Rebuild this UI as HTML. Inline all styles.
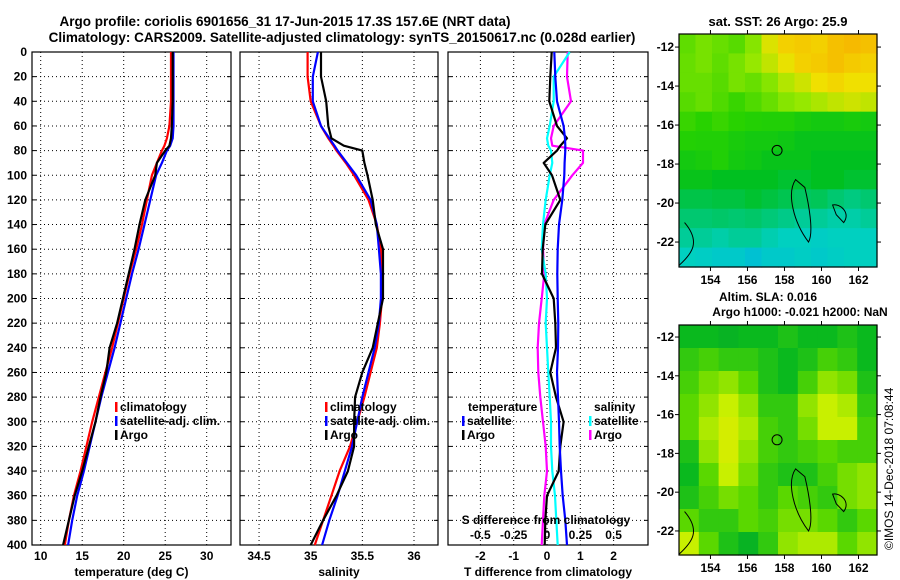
<!DOCTYPE html>
<html><head><meta charset="utf-8"><style>
body{margin:0;background:#fff;width:900px;height:580px;overflow:hidden}
svg{display:block;font-family:"Liberation Sans",sans-serif;font-weight:bold;font-size:12px}
</style></head><body>
<svg id="fig" width="900" height="580" viewBox="0 0 900 580">
<text x="285" y="26" text-anchor="middle" font-size="13.5">Argo profile: coriolis 6901656_31 17-Jun-2015 17.3S 157.6E (NRT data)</text>
<text x="342" y="42" text-anchor="middle" font-size="13.5">Climatology: CARS2009. Satellite-adjusted climatology: synTS_20150617.nc (0.028d earlier)</text>
<text x="778" y="26" text-anchor="middle" font-size="13">sat. SST: 26 Argo: 25.9</text>
<text x="768" y="301" text-anchor="middle" font-size="12">Altim. SLA: 0.016</text>
<text x="800" y="316" text-anchor="middle" font-size="12">Argo h1000: -0.021 h2000: NaN</text>
<text transform="translate(893,550) rotate(-90)" font-size="12" font-weight="normal">©IMOS 14-Dec-2018 07:08:44</text>
<g id="g"></g>
</svg>
<script>
// ---- data ----
const depthTicks=[0,20,40,60,80,100,120,140,160,180,200,220,240,260,280,300,320,340,360,380,400];
const D=[0,20,40,60,70,76,80,90,100,120,140,160,180,200,220,240,260,280,300,320,340,360,380,400];
const tempClim=[25.7,25.7,25.7,25.5,25.2,24.9,24.6,24.0,23.4,22.8,22.2,21.5,20.7,20.0,19.3,18.6,17.8,17.0,16.2,15.5,14.8,14.0,13.4,12.9];
const tempSat=[26.0,26.0,26.0,26.0,25.9,25.6,25.2,24.6,23.9,23.2,22.5,21.8,21.0,20.3,19.6,18.9,18.1,17.3,16.6,15.9,15.2,14.4,13.8,13.3];
const tempArgo=[25.9,25.9,25.9,25.8,25.7,25.5,25.0,24.0,23.8,22.6,21.9,21.3,20.6,19.9,19.2,18.3,17.9,17.2,16.6,15.8,15.0,14.1,13.4,12.7];
const salClim=[34.97,34.97,35.0,35.1,35.17,35.22,35.25,35.34,35.42,35.56,35.64,35.68,35.69,35.69,35.67,35.64,35.58,35.52,35.45,35.38,35.28,35.2,35.12,35.04];
const salSat=[35.07,35.02,35.02,35.1,35.18,35.23,35.26,35.35,35.44,35.58,35.64,35.66,35.68,35.68,35.66,35.62,35.56,35.5,35.45,35.4,35.33,35.26,35.18,35.11];
const salArgo=[35.1,35.1,35.15,35.17,35.2,35.32,35.5,35.52,35.55,35.6,35.63,35.7,35.7,35.7,35.65,35.6,35.5,35.43,35.42,35.42,35.36,35.25,35.12,35.0];
const dTsat=[0.22,0.25,0.3,0.5,0.54,0.55,0.55,0.53,0.52,0.46,0.36,0.32,0.31,0.32,0.34,0.33,0.3,0.33,0.36,0.38,0.42,0.47,0.55,0.6];
const dTargo=[0.14,0.1,0.07,0.3,0.6,0.4,0.3,-0.1,0.15,0.4,-0.05,-0.13,-0.15,0.2,0.25,0.27,0.1,0.27,0.5,0.4,0.35,0.0,-0.05,-0.07];
const dSsat=[0.17,0.05,0.05,0.02,0.0,0.01,0.03,0.04,0.02,-0.01,-0.03,-0.04,-0.01,0.0,-0.01,0.0,0.01,0.02,0.03,0.03,0.04,0.06,0.07,0.08];
const dSargo=[0.155,0.15,0.18,0.05,0.03,0.04,0.27,0.27,0.19,0.05,-0.02,-0.03,-0.02,-0.04,-0.06,-0.07,-0.065,-0.05,-0.03,-0.01,0.0,-0.02,-0.03,-0.04];
const tTicks=[10,15,20,25,30];
const sTicks=[34.5,35,35.5,36];
const dtTicks=[-2,-1,0,1,2];
const dsTicks=[-0.5,-0.25,0,0.25,0.5];
const lonTicks=[154,156,158,160,162];
const latTicks=[-12,-14,-16,-18,-20,-22];
const argoLon=157.6, argoLat=-17.3;
const sstGrid=[
[.65,.68,.66,.64,.7,.82,.9,.92,.9,.95,.97,.95],
[.66,.68,.65,.68,.72,.78,.84,.9,.92,.95,.92,.9],
[.66,.66,.64,.68,.66,.7,.76,.8,.85,.88,.85,.85],
[.64,.66,.63,.6,.63,.66,.7,.72,.75,.78,.8,.78],
[.6,.58,.6,.58,.56,.55,.55,.52,.5,.5,.52,.5],
[.56,.55,.55,.52,.5,.5,.48,.45,.45,.45,.45,.45],
[.5,.52,.55,.5,.48,.45,.45,.45,.42,.42,.42,.42],
[.45,.45,.42,.42,.42,.42,.4,.4,.42,.42,.4,.4],
[.37,.37,.38,.38,.4,.38,.36,.34,.35,.32,.3,.32],
[.32,.32,.33,.32,.33,.31,.29,.27,.27,.25,.25,.27],
[.27,.27,.25,.27,.27,.24,.22,.22,.2,.22,.22,.22],
[.22,.2,.17,.17,.12,.17,.17,.2,.17,.2,.22,.22]];
const slaGrid=[
[.3,.3,.25,.3,.3,.35,.3,.3,.35,.3],
[.4,.45,.4,.4,.35,.3,.35,.45,.4,.3],
[.45,.55,.6,.5,.35,.3,.45,.6,.55,.35],
[.5,.6,.7,.6,.4,.4,.6,.7,.65,.4],
[.5,.65,.75,.65,.45,.4,.55,.7,.7,.45],
[.35,.6,.75,.6,.45,.4,.45,.5,.45,.45],
[.3,.5,.7,.55,.4,.35,.35,.45,.55,.6],
[.35,.45,.55,.5,.4,.5,.45,.4,.55,.6],
[.5,.4,.4,.5,.45,.55,.55,.5,.4,.5],
[.7,.5,.35,.25,.4,.6,.65,.65,.5,.6]];

// ---- helpers ----
const NS="http://www.w3.org/2000/svg";
const G=document.getElementById('g');
function mk(tag,at,parent){const e=document.createElementNS(NS,tag);for(const k in at)e.setAttribute(k,at[k]);(parent||G).appendChild(e);return e;}
const Y0=52,Y1=545;
const yD=d=>Y0+(d/400)*(Y1-Y0);
const panels=[
 {x0:32,x1:231,sc:v=>40.7+(v-10)*8.3,ticks:tTicks,lab:"temperature (deg C)",name:"temperature-panel"},
 {x0:240,x1:438,sc:v=>310.7+(v-35)*103.3,ticks:sTicks,lab:"salinity",name:"salinity-panel"},
 {x0:448,x1:648,sc:v=>547+v*33.3,ticks:dtTicks,lab:"T difference from climatology",name:"difference-panel"}];
const sS=v=>547+v*133.3;

panels.forEach((p,pi)=>{
  const g=mk('g',{});
  
  
  depthTicks.forEach(d=>{ if(d>0&&d<400){const l=mk('line',{x1:p.x0,x2:p.x1,y1:yD(d),y2:yD(d),stroke:'#000','stroke-width':1,'stroke-dasharray':'1,3'},g);
    
    }
    const t=mk('line',{x1:p.x0,x2:p.x0+4,y1:yD(d),y2:yD(d),stroke:'#000'},g);
    
    
    const t2=mk('line',{x1:p.x1-4,x2:p.x1,y1:yD(d),y2:yD(d),stroke:'#000'},g);
    
    
  });
  p.ticks.forEach(v=>{const x=p.sc(v);
    const l=mk('line',{x1:x,x2:x,y1:Y0,y2:Y1,stroke:'#000','stroke-dasharray':'1,3'},g);
    
    
    const tx=mk('text',{x:x,y:560,'text-anchor':'middle'},g);tx.textContent=v;
    
    
  });
  const r=mk('rect',{x:p.x0,y:Y0,width:p.x1-p.x0,height:Y1-Y0,fill:'none',stroke:'#000','stroke-width':1.2},g);
  
  
  const al=mk('text',{x:(p.x0+p.x1)/2,y:576,'text-anchor':'middle'},g);al.textContent=p.lab;
  
  
});
depthTicks.forEach(d=>{const t=mk('text',{x:27,y:yD(d)+4,'text-anchor':'end'});t.textContent=d;
  
  });

function line(vals,sc,color,name,w){
  const pts=vals.map((v,i)=>sc(v).toFixed(1)+','+yD(D[i]).toFixed(1)).join(' ');
  const e=mk('polyline',{points:pts,fill:'none',stroke:color,'stroke-width':w||2.2,'stroke-linejoin':'round'});
  
  
}
const P=panels;
line(tempClim,P[0].sc,'#f00','temperature-climatology-line');
line(tempSat,P[0].sc,'#00f','temperature-satellite-line');
line(tempArgo,P[0].sc,'#000','temperature-argo-line');
line(salClim,P[1].sc,'#f00','salinity-climatology-line');
line(salSat,P[1].sc,'#00f','salinity-satellite-line');
line(salArgo,P[1].sc,'#000','salinity-argo-line');
line(dSargo,sS,'#f0f','s-diff-argo-line');
line(dSsat,sS,'#0ff','s-diff-satellite-line');
line(dTargo,P[2].sc,'#000','t-diff-argo-line');
line(dTsat,P[2].sc,'#00f','t-diff-satellite-line');

dsTicks.forEach(v=>{const t=mk('text',{x:sS(v),y:539,'text-anchor':'middle'});t.textContent=v;
  
  });
{const t=mk('text',{x:546,y:524,'text-anchor':'middle'});t.textContent='S difference from climatology';
 
 }

function legend(x,y,color,label,name){
  const g=mk('g',{});
  
  
  if(color)mk('rect',{x:x-5,y:y-9,width:2.5,height:10,fill:color},g);
  const t=mk('text',{x:x,y:y},g);t.textContent=label;
}
legend(120,411,'#f00','climatology','legend-climatology');
legend(120,425,'#00f','satellite-adj. clim.','legend-satellite-adj');
legend(120,439,'#000','Argo','legend-argo');
legend(330,411,'#f00','climatology','legend-climatology');
legend(330,425,'#00f','satellite-adj. clim.','legend-satellite-adj');
legend(330,439,'#000','Argo','legend-argo');
legend(468,411,null,'temperature','legend-temperature-header');
legend(467,425,'#00f','satellite','legend-t-satellite');
legend(467,439,'#000','Argo','legend-t-argo');
legend(594,411,null,'salinity','legend-salinity-header');
legend(594,425,'#0ff','satellite','legend-s-satellite');
legend(594,439,'#f0f','Argo','legend-s-argo');

// ---- maps ----
function lerpC(stops,v){v=Math.max(0,Math.min(1,v));for(let i=1;i<stops.length;i++){if(v<=stops[i][0]){const a=stops[i-1],b=stops[i],t=(v-a[0])/(b[0]-a[0]);
  return 'rgb('+[0,1,2].map(k=>Math.round(a[1][k]+(b[1][k]-a[1][k])*t)).join(',')+')';}}return 'rgb(240,160,0)';}
const sstStops=[[0,[0,176,232]],[0.22,[0,208,192]],[0.42,[0,192,32]],[0.58,[40,210,0]],[0.72,[150,232,0]],[0.85,[240,224,0]],[1,[248,176,0]]];
const slaStops=[[0,[0,150,60]],[0.3,[10,185,30]],[0.5,[90,216,0]],[0.7,[200,240,0]],[0.85,[235,232,0]],[1,[240,176,0]]];
function map(x0,x1,y0,y1,latTop,latBot,grid,stops,name){
  const g=mk('g',{});
  
  
  const lonL=152.3,lonR=163.0;
  const xs=lon=>x0+(lon-lonL)/(lonR-lonL)*(x1-x0);
  const ys=lat=>y0+(latTop-lat)/(latTop-latBot)*(y1-y0);
  const R=grid.length,C=grid[0].length,cw=(x1-x0)/C,ch=(y1-y0)/R;
  grid.forEach((row,i)=>row.forEach((v,j)=>{
    const c=mk('rect',{x:x0+j*cw,y:y0+i*ch,width:cw+0.6,height:ch+0.6,fill:lerpC(stops,v)},g);
    
    
  }));
  const isl=mk('path',{d:`M${xs(158.6)},${ys(-18.8)} C${xs(158.1)},${ys(-19.5)} ${xs(158.5)},${ys(-21)} ${xs(159.3)},${ys(-22)} C${xs(159.6)},${ys(-21.5)} ${xs(159.3)},${ys(-20)} ${xs(159.1)},${ys(-19.2)} Z M${xs(160.6)},${ys(-20.1)} C${xs(161)},${ys(-20)} ${xs(161.6)},${ys(-20.5)} ${xs(161.2)},${ys(-21)} L${xs(160.8)},${ys(-20.6)} Z M${xs(152.3)},${ys(-23.2)} C${xs(153)},${ys(-22.6)} ${xs(153.5)},${ys(-22)} ${xs(152.6)},${ys(-21)}`,fill:'none',stroke:'#000','stroke-width':1},g);
  
  
  const ci=mk('circle',{cx:xs(argoLon),cy:ys(argoLat),r:5,fill:'none',stroke:'#000','stroke-width':1},g);
  
  
  const fr=mk('rect',{x:x0,y:y0,width:x1-x0,height:y1-y0,fill:'none',stroke:'#000','stroke-width':1.2},g);
  
  
  lonTicks.forEach(l=>{const x=xs(l);
    mk('line',{x1:x,x2:x,y1:y1,y2:y1+4,stroke:'#000'},g);mk('line',{x1:x,x2:x,y1:y0,y2:y0-4,stroke:'#000'},g);
    const t=mk('text',{x:x,y:y1+17,'text-anchor':'middle'},g);t.textContent=l;
    
    });
  latTicks.forEach(l=>{const y=ys(l);
    mk('line',{x1:x0-4,x2:x0,y1:y,y2:y,stroke:'#000'},g);mk('line',{x1:x1,x2:x1+4,y1:y,y2:y,stroke:'#000'},g);
    const t=mk('text',{x:x0-5,y:y+4,'text-anchor':'end'},g);t.textContent=l;
    
    });
}
map(679,877,34,267,-11.33,-23.28,sstGrid,sstStops,'sst-map');
map(679,877,325,555,-11.38,-23.24,slaGrid,slaStops,'sla-map');
</script>
</body></html>
